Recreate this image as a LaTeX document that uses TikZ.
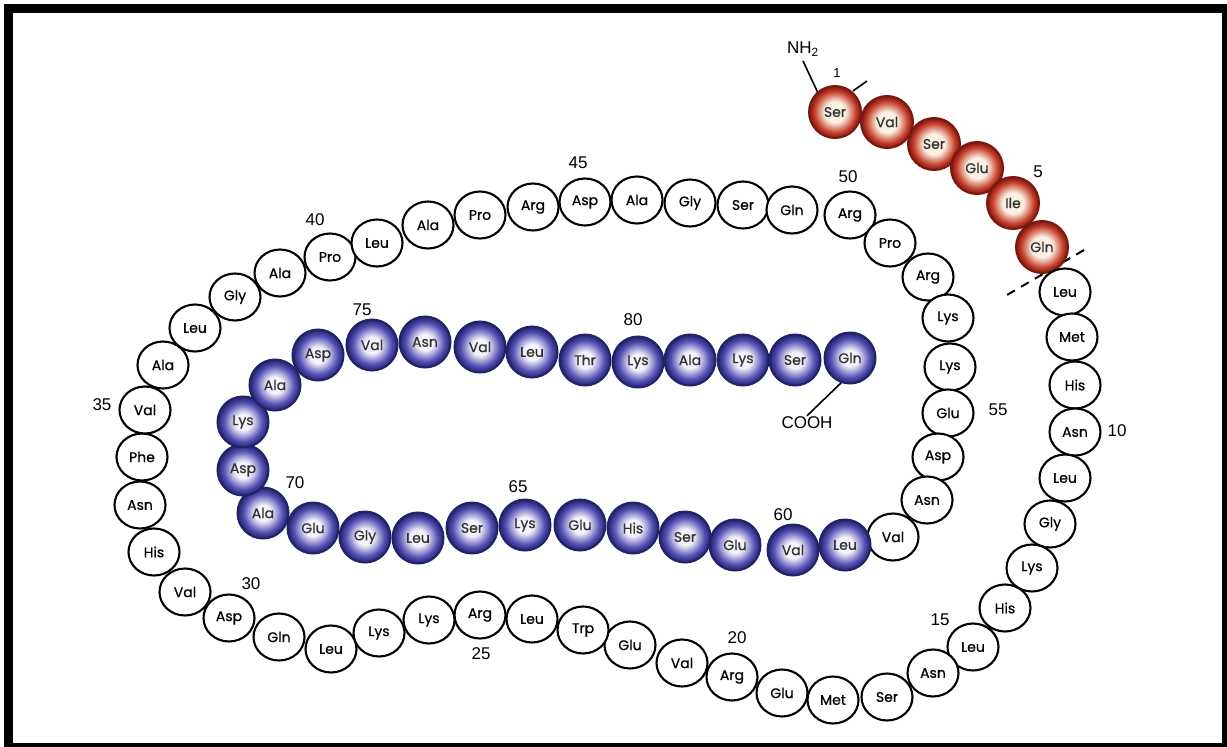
\documentclass[tikz,border=0pt]{standalone}
\usepackage{fontspec}
\setmainfont{Liberation Sans}
\newfontfamily\aafont{Poppins}[FakeBold=0.7]
\usetikzlibrary{shapes.geometric}
\definecolor{bdark}{HTML}{22226A}
\definecolor{bmid}{HTML}{5650B4}
\definecolor{blight}{HTML}{F4F2FB}
\definecolor{rdark}{HTML}{7A1810}
\definecolor{rmid}{HTML}{C63E2C}
\definecolor{rlight}{HTML}{FAF1E2}
\pgfdeclareradialshading{blueball}{\pgfpoint{0bp}{0bp}}{color(0bp)=(blight); color(8bp)=(blight); color(19bp)=(bmid); color(25bp)=(bdark); color(50bp)=(bdark)}
\pgfdeclareradialshading{redball}{\pgfpoint{0bp}{0bp}}{color(0bp)=(rlight); color(10bp)=(rlight); color(20bp)=(rmid); color(25bp)=(rdark); color(50bp)=(rdark)}
\tikzset{
  aa/.style={ellipse, draw, line width=2.1pt, fill=white, minimum width=51pt, minimum height=47pt, inner sep=0pt, font=\aafont\fontsize{14}{14}\selectfont},
  bb/.style={circle, draw=bdark, line width=2pt, shade, shading=blueball, minimum size=51pt, inner sep=0pt, text=black!80, font=\aafont\fontsize{14}{14}\selectfont},
  rr/.style={circle, draw=rdark, line width=2pt, shade, shading=redball, minimum size=52pt, inner sep=0pt, text=black!80, font=\aafont\fontsize{14}{14}\selectfont},
  num/.style={inner sep=0pt, font=\fontsize{17}{17}\selectfont},
  bond/.style={line width=1.6pt},
}
\begin{document}
\begin{tikzpicture}[x=1pt,y=-1pt]
\useasboundingbox (0,0) rectangle (1227,747);
\fill[white] (0,0) rectangle (1227,747);
% frame
\fill[black] (4,4) rectangle (13,747);
\fill[black] (4,4) rectangle (1227,13);
\fill[black] (1222,4) rectangle (1227,747);
\fill[black] (4,743) rectangle (1227,747);
% dashed cut line and helper coordinates
\coordinate (cutA) at (1084,250);
\coordinate (cutB) at (1007,295);
\draw[line width=2pt, dash pattern=on 9pt off 7pt] (cutA) -- (cutB);
\coordinate (tickA) at (853,91);
\coordinate (tickB) at (867,81);
\draw[bond] (tickA) -- (tickB);
% labels
\node[inner sep=1pt, font=\fontsize{17}{17}\selectfont] (nh2) at (803,49) {NH\textsubscript{2}};
\node[inner sep=1pt, font=\fontsize{17}{17}\selectfont] (cooh) at (807,423) {COOH};
\node[num, font=\fontsize{13}{13}\selectfont] (n1) at (837,73) {1};
\draw[bond] (803,61) -- (818,93);
\draw[bond] (843,381) -- (cooh.north);
% red residues
\node[rr] (a1) at (835,112) {Ser};
\node[rr] (a2) at (887,122) {Val};
\node[rr] (a3) at (934,144) {Ser};
\node[rr] (a4) at (977,168) {Glu};
\node[rr] (a5) at (1013,203) {Ile};
\node[rr] (a6) at (1042,247) {Gln};
% white residues
\node[aa] (a7) at (1065,292) {Leu};
\node[aa] (a8) at (1072,337) {Met};
\node[aa] (a9) at (1075,385) {His};
\node[aa] (a10) at (1075,432) {Asn};
\node[aa] (a11) at (1065,478) {Leu};
\node[aa] (a12) at (1050,524) {Gly};
\node[aa] (a13) at (1032,568) {Lys};
\node[aa] (a14) at (1005,608) {His};
\node[aa] (a15) at (973,647) {Leu};
\node[aa] (a16) at (933,673) {Asn};
\node[aa] (a17) at (887,697) {Ser};
\node[aa] (a18) at (833,700) {Met};
\node[aa] (a19) at (782,693) {Glu};
\node[aa] (a20) at (732,677) {Arg};
\node[aa] (a21) at (682,663) {Val};
\node[aa] (a22) at (630,645) {Glu};
\node[aa] (a23) at (583,630) {Trp};
\node[aa] (a24) at (532,619) {Leu};
\node[aa] (a25) at (480,615) {Arg};
\node[aa] (a26) at (429,620) {Lys};
\node[aa] (a27) at (379,633) {Lys};
\node[aa] (a28) at (331,649) {Leu};
\node[aa] (a29) at (279,637) {Gln};
\node[aa] (a30) at (229,618) {Asp};
\node[aa] (a31) at (185,592) {Val};
\node[aa] (a32) at (154,552) {His};
\node[aa] (a33) at (140,505) {Asn};
\node[aa] (a34) at (142,457) {Phe};
\node[aa] (a35) at (145,410) {Val};
\node[aa] (a36) at (163,365) {Ala};
\node[aa] (a37) at (195,328) {Leu};
\node[aa] (a38) at (235,297) {Gly};
\node[aa] (a39) at (280,273) {Ala};
\node[aa] (a40) at (330,257) {Pro};
\node[aa] (a41) at (377,243) {Leu};
\node[aa] (a42) at (428,225) {Ala};
\node[aa] (a43) at (480,215) {Pro};
\node[aa] (a44) at (533,207) {Arg};
\node[aa] (a45) at (585,202) {Asp};
\node[aa] (a46) at (637,200) {Ala};
\node[aa] (a47) at (690,203) {Gly};
\node[aa] (a48) at (743,205) {Ser};
\node[aa] (a49) at (792,210) {Gln};
\node[aa] (a50) at (850,215) {Arg};
\node[aa] (a51) at (890,243) {Pro};
\node[aa] (a52) at (928,277) {Arg};
\node[aa] (a53) at (948,318) {Lys};
\node[aa] (a54) at (950,367) {Lys};
\node[aa] (a55) at (948,413) {Glu};
\node[aa] (a56) at (938,457) {Asp};
\node[aa] (a57) at (927,500) {Asn};
\node[aa] (a58) at (893,537) {Val};
% blue residues
\node[bb] (a59) at (845,545) {Leu};
\node[bb] (a60) at (793,550) {Val};
\node[bb] (a61) at (735,545) {Glu};
\node[bb] (a62) at (685,537) {Ser};
\node[bb] (a63) at (633,528) {His};
\node[bb] (a64) at (580,525) {Glu};
\node[bb] (a65) at (525,525) {Lys};
\node[bb] (a66) at (472,528) {Ser};
\node[bb] (a67) at (418,538) {Leu};
\node[bb] (a68) at (365,537) {Gly};
\node[bb] (a69) at (313,528) {Glu};
\node[bb] (a70) at (263,513) {Ala};
\node[bb] (a71) at (243,470) {Asp};
\node[bb] (a72) at (243,422) {Lys};
\node[bb] (a73) at (275,385) {Ala};
\node[bb] (a74) at (318,355) {Asp};
\node[bb] (a75) at (372,345) {Val};
\node[bb] (a76) at (425,342) {Asn};
\node[bb] (a77) at (480,347) {Val};
\node[bb] (a78) at (532,352) {Leu};
\node[bb] (a79) at (585,360) {Thr};
\node[bb] (a80) at (638,362) {Lys};
\node[bb] (a81) at (690,360) {Ala};
\node[bb] (a82) at (743,360) {Lys};
\node[bb] (a83) at (795,360) {Ser};
\node[bb] (a84) at (850,358) {Gln};
% position numbers
\node[num] (n5) at (1038,172) {5};
\node[num] (n10) at (1117,431) {10};
\node[num] (n15) at (940,620) {15};
\node[num] (n20) at (737,638) {20};
\node[num] (n25) at (481,654) {25};
\node[num] (n30) at (251,584) {30};
\node[num] (n35) at (102,405) {35};
\node[num] (n40) at (315,220) {40};
\node[num] (n45) at (578,163) {45};
\node[num] (n50) at (848,177) {50};
\node[num] (n55) at (998,410) {55};
\node[num] (n60) at (783,515) {60};
\node[num] (n65) at (518,487) {65};
\node[num] (n70) at (295,483) {70};
\node[num] (n75) at (362,310) {75};
\node[num] (n80) at (633,320) {80};
\end{tikzpicture}
\end{document}
